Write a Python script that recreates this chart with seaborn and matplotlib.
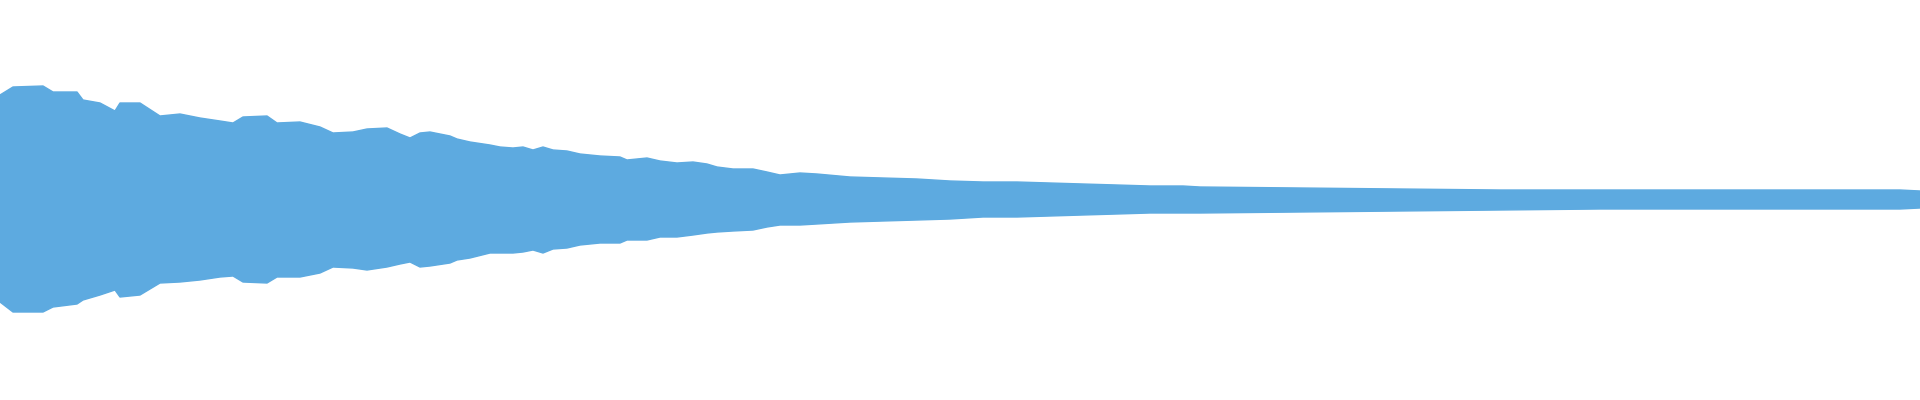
import numpy as np
import pandas as pd
import seaborn as sns
import matplotlib
matplotlib.use("Agg")
import matplotlib.pyplot as plt

# --- waveform envelope (time in s, amplitude -1..1) ---
time_s = [0.0, 0.325, 1.075, 1.325, 1.925, 2.075, 2.5, 2.875, 3.0, 3.5,
          4.0, 4.5, 5.0, 5.5, 5.825, 6.075, 6.675, 6.925, 7.5, 8.0,
          8.325, 8.825, 9.175, 9.675, 10.0, 10.25, 10.5, 10.75, 11.25, 11.425,
          11.75, 12.25, 12.5, 12.825, 13.075, 13.325, 13.575, 13.825, 14.175, 14.5,
          15.0, 15.5, 15.675, 16.175, 16.5, 16.925, 17.325, 17.675, 17.925, 18.325,
          18.825, 19.175, 19.5, 20.0, 20.425, 21.25, 22.075, 22.925, 23.75, 24.575,
          25.425, 26.25, 27.075, 27.925, 28.75, 29.575, 30.0, 32.5, 35.0, 37.5,
          40.0, 42.5, 45.0, 47.5, 48.0]
upper_amp = [0.525, 0.565, 0.570, 0.540, 0.540, 0.500, 0.485, 0.445, 0.485, 0.485,
             0.420, 0.430, 0.410, 0.395, 0.385, 0.415, 0.420, 0.385, 0.390, 0.365,
             0.335, 0.340, 0.355, 0.360, 0.330, 0.310, 0.335, 0.340, 0.320, 0.305,
             0.290, 0.275, 0.265, 0.260, 0.265, 0.250, 0.265, 0.250, 0.245, 0.230,
             0.220, 0.215, 0.200, 0.210, 0.195, 0.185, 0.190, 0.180, 0.165, 0.155,
             0.155, 0.140, 0.125, 0.135, 0.130, 0.115, 0.110, 0.105, 0.095, 0.090,
             0.090, 0.085, 0.080, 0.075, 0.070, 0.070, 0.065, 0.060, 0.055, 0.050,
             0.050, 0.050, 0.050, 0.050, 0.045]
lower_amp = [0.510, 0.560, 0.560, 0.535, 0.520, 0.500, 0.475, 0.450, 0.485, 0.475,
             0.415, 0.410, 0.400, 0.385, 0.380, 0.410, 0.415, 0.385, 0.385, 0.365,
             0.335, 0.340, 0.350, 0.335, 0.320, 0.310, 0.335, 0.330, 0.315, 0.300,
             0.290, 0.265, 0.265, 0.265, 0.260, 0.250, 0.265, 0.245, 0.240, 0.225,
             0.215, 0.215, 0.200, 0.200, 0.185, 0.185, 0.175, 0.165, 0.160, 0.155,
             0.150, 0.135, 0.125, 0.125, 0.120, 0.110, 0.105, 0.100, 0.095, 0.085,
             0.085, 0.080, 0.075, 0.070, 0.065, 0.065, 0.065, 0.060, 0.055, 0.050,
             0.045, 0.045, 0.045, 0.045, 0.040]

wave_color = '#5DAAE0'

df = pd.DataFrame({'time': time_s,
                   'upper': upper_amp,
                   'lower': [-v for v in lower_amp]})

sns.set_theme(style='white')
fig = plt.figure(figsize=(19.2, 4), dpi=100)
ax = fig.add_axes([0, 0, 1, 1])

ax.fill_between(df['time'], df['lower'], df['upper'], color=wave_color, linewidth=0)
sns.lineplot(data=df, x='time', y='upper', ax=ax, color=wave_color, linewidth=1)
sns.lineplot(data=df, x='time', y='lower', ax=ax, color=wave_color, linewidth=1)

ax.set_xlim(df['time'].min(), df['time'].max())
ax.set_ylim(-1, 1)
ax.axis('off')

fig.savefig('out.png', dpi=100, facecolor='white')
